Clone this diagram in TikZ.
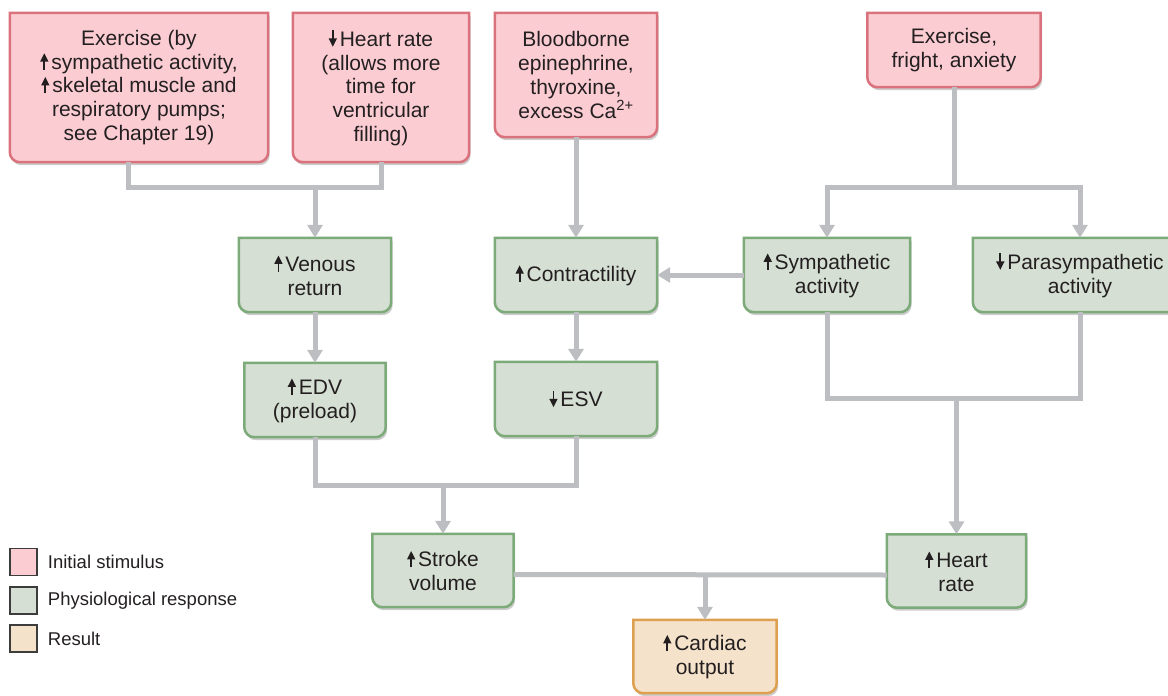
\documentclass[tikz,border=0pt]{standalone}
\usepackage{fontspec}
\setmainfont{Liberation Sans}
\usetikzlibrary{arrows.meta,positioning,shadows,backgrounds}

\definecolor{stimfill}{HTML}{FBCDD3}
\definecolor{stimline}{HTML}{D9727C}
\definecolor{respfill}{HTML}{D5DFD3}
\definecolor{respline}{HTML}{7CAA79}
\definecolor{outfill}{HTML}{F5E2CA}
\definecolor{outline}{HTML}{DDA050}
\definecolor{linkgray}{HTML}{BDBEC2}
\definecolor{inkdark}{HTML}{231F20}
\definecolor{keyline}{HTML}{3C3C3C}

% 増加・減少の矢印
\newcommand{\incr}{\tikz[baseline=0pt]\draw[line width=1.7pt,
  -{Triangle[width=8pt,length=8.5pt]}] (0,-0.5pt) -- (0,16pt);\hspace{3pt}}
\newcommand{\decr}{\tikz[baseline=0pt]\draw[line width=1.7pt,
  -{Triangle[width=8pt,length=8.5pt]}] (0,16pt) -- (0,-0.5pt);\hspace{3pt}}
\newcommand{\cornerrad}{10pt}
% 下だけ角丸の箱（背景レイヤー）
\newcommand{\stagebox}[2]{%
  \begin{pgfonlayer}{background}
    \draw[#2] (#1.north west) -- (#1.north east)
      -- ([yshift=\cornerrad]#1.south east)
      arc[start angle=0, end angle=-90, radius=\cornerrad]
      -- ([xshift=\cornerrad]#1.south west)
      arc[start angle=270, end angle=180, radius=\cornerrad] -- cycle;
  \end{pgfonlayer}}

\tikzset{
  txt/.style={inner sep=0pt, align=center, text=inkdark,
    font=\fontsize{21}{23.7}\selectfont},
  boxshadow/.style={drop shadow={shadow xshift=1.5pt, shadow yshift=-3pt,
    opacity=0.2, fill=black}},
  stim/.style={boxshadow, draw=stimline, fill=stimfill, line width=2.5pt},
  resp/.style={boxshadow, draw=respline, fill=respfill, line width=2.5pt},
  outc/.style={boxshadow, draw=outline, fill=outfill, line width=2.5pt},
  link/.style={draw=linkgray, line width=5pt},
  flow/.style={link, -{Triangle[width=15pt,length=13pt]}},
  keybox/.style={draw=keyline, line width=1.5pt, minimum size=27pt, inner sep=0pt},
  legtxt/.style={inner sep=0pt, text=inkdark, font=\fontsize{18.5}{22}\selectfont}
}

\begin{document}
\begin{tikzpicture}[x=1pt, y=1pt]
  \clip (0,0) rectangle (1168,-696);
  % 刺激（上段）
  \node[txt, minimum width=258pt, minimum height=149pt] (exer) at (139,-87.5)
    {Exercise (by\\ \incr sympathetic activity,\\ \incr skeletal muscle and\\
     respiratory pumps;\\ see Chapter 19)};
  \stagebox{exer}{stim}
  \node[txt, minimum width=176pt, minimum height=149pt] (slowhr) at (381,-87.5)
    {\decr Heart rate\\ (allows more\\ time for\\ ventricular\\ filling)};
  \stagebox{slowhr}{stim}
  \node[txt, minimum width=162pt, minimum height=124pt] (blood) at (576,-75)
    {Bloodborne\\ epinephrine,\\ thyroxine,\\ excess Ca\textsuperscript{2+}};
  \stagebox{blood}{stim}
  \node[txt, minimum width=173pt, minimum height=74pt] (fear) at (954,-50)
    {Exercise,\\ fright, anxiety};
  \stagebox{fear}{stim}

  % 生理的反応（中段）
  \node[txt, minimum width=152pt, minimum height=74pt] (venous) at (315,-275)
    {\incr Venous\\ return};
  \stagebox{venous}{resp}
  \node[txt, minimum width=162pt, minimum height=74pt] (contr) at (576,-275)
    {\incr Contractility};
  \stagebox{contr}{resp}
  \node[txt, minimum width=166pt, minimum height=74pt] (symp) at (827,-275)
    {\incr Sympathetic\\ activity};
  \stagebox{symp}{resp}
  \node[txt, minimum width=214pt, minimum height=74pt] (para) at (1080,-275)
    {\decr Parasympathetic\\ activity};
  \stagebox{para}{resp}
  \node[txt, minimum width=141pt, minimum height=74pt] (edv) at (315,-400)
    {\incr EDV\\ (preload)};
  \stagebox{edv}{resp}
  \node[txt, minimum width=162pt, minimum height=74pt] (esv) at (576,-399)
    {\decr ESV};
  \stagebox{esv}{resp}
  \node[txt, minimum width=141pt, minimum height=73pt] (stroke) at (443,-570.5)
    {\incr Stroke\\ volume};
  \stagebox{stroke}{resp}
  \node[txt, minimum width=139pt, minimum height=73pt] (rate) at (956.5,-571)
    {\incr Heart\\ rate};
  \stagebox{rate}{resp}

  % 結果
  \node[txt, minimum width=143pt, minimum height=73pt] (cardiac) at (705,-656.5)
    {\incr Cardiac\\ output};
  \stagebox{cardiac}{outc}

  % 分岐点
  \coordinate (jVen) at (315,-187);
  \coordinate (jAut) at (954,-187);
  \coordinate (jSV) at (443,-485);
  \coordinate (jHR) at (956.5,-398);
  \coordinate (jCO) at (705,-575);

  % 矢印
  \draw[link] ([xshift=-11pt]exer.south) |- (jVen) -| (slowhr.south);
  \draw[flow] (jVen) -- (venous.north);
  \draw[flow] (blood.south) -- (contr.north);
  \draw[link] (fear.south) -- (jAut);
  \draw[flow] (jAut) -| (symp.north);
  \draw[flow] (jAut) -| (para.north);
  \draw[flow] (symp.west) -- (contr.east);
  \draw[flow] (venous.south) -- (edv.north);
  \draw[flow] (contr.south) -- (esv.north);
  \draw[link] (edv.south) |- (jSV) -| (esv.south);
  \draw[flow] (jSV) -- (stroke.north);
  \draw[link] (symp.south) |- (jHR) -| (para.south);
  \draw[flow] (jHR) -- (rate.north);
  \draw[link] ([yshift=-4pt]stroke.east) -- ([yshift=-4pt]rate.west);
  \draw[flow] (jCO) -- (cardiac.north);

  % 凡例
  \node[keybox, fill=stimfill] (keyStim) at (23.5,-562) {};
  \node[legtxt, right=10pt of keyStim] (legStim) {Initial stimulus};
  \node[keybox, fill=respfill] (keyResp) at (23.5,-600.5) {};
  \node[legtxt, right=10pt of keyResp] (legResp) {Physiological response};
  \node[keybox, fill=outfill] (keyOut) at (23.5,-638.5) {};
  \node[legtxt, right=10pt of keyOut] (legOut) {Result};
\end{tikzpicture}
\end{document}
